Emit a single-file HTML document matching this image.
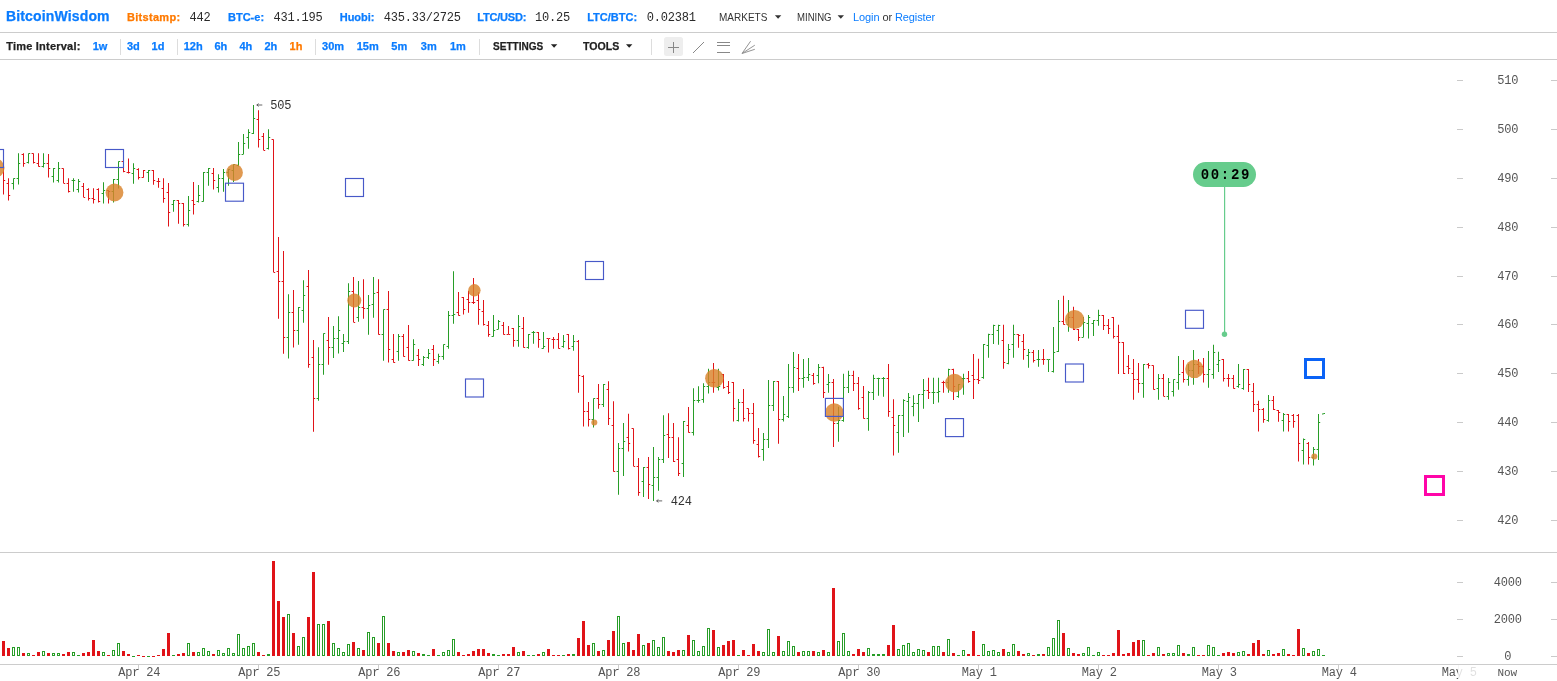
<!DOCTYPE html>
<html><head><meta charset="utf-8"><title>BitcoinWisdom</title>
<style>
html,body{margin:0;padding:0;background:#fff;}
body{width:1557px;height:681px;overflow:hidden;position:relative;will-change:transform;font-family:"Liberation Sans",sans-serif;font-size:11px;color:#333;}
.t{position:absolute;white-space:nowrap;line-height:14px;height:14px;}
.b{font-weight:bold;-webkit-text-stroke:0.25px currentColor;}
.bl{color:#0a7cff;}
.or{color:#ff7a00;}
.m{font-family:"Liberation Mono",monospace;font-size:12px;letter-spacing:-0.2px;color:#2a2a2a;margin-top:1px;}
.sx{display:inline-block;transform-origin:0 50%;}
.hl{position:absolute;left:0;width:1557px;height:1px;background:#cccccc;}
.vs{position:absolute;width:1px;background:#dddddd;top:39px;height:16px;}
svg{position:absolute;left:0;top:0;}
.ax{font-family:"Liberation Mono",monospace;font-size:12px;letter-spacing:-0.2px;fill:#555;}
</style></head><body>

<div class="t b bl" style="left:6.0px;top:7px;font-size:14px;line-height:18px;height:18px;letter-spacing:0.15px;">BitcoinWisdom</div>
<div class="t b or" style="left:127.0px;top:10px;letter-spacing:0.3px;">Bitstamp:</div>
<div class="t m" style="left:189.4px;top:10px;">442</div>
<div class="t b bl" style="left:228px;top:10px;">BTC-e:</div>
<div class="t m" style="left:273.5px;top:10px;">431.195</div>
<div class="t b bl" style="left:339.7px;top:10px;">Huobi:</div>
<div class="t m" style="left:383.8px;top:10px;">435.33/2725</div>
<div class="t b bl" style="left:477.3px;top:10px;letter-spacing:-0.2px;">LTC/USD:</div>
<div class="t m" style="left:535px;top:10px;">10.25</div>
<div class="t b bl" style="left:587.2px;top:10px;">LTC/BTC:</div>
<div class="t m" style="left:646.8px;top:10px;">0.02381</div>
<div class="t " style="left:719.4px;top:10px;"><span class="sx" style="transform:scaleX(0.909)">MARKETS</span></div>
<div class="t " style="left:797.3px;top:10px;"><span class="sx" style="transform:scaleX(0.87)">MINING</span></div>
<div class="t " style="left:853.0px;top:10px;letter-spacing:-0.1px;"><span class="bl">Login</span> or <span class="bl">Register</span></div>
<div class="hl" style="top:32px"></div><div class="hl" style="top:59px"></div>
<div class="t b" style="left:6.2px;top:39px;color:#222;letter-spacing:0.22px;">Time Interval:</div>
<div class="t b bl" style="left:92.7px;top:39px;">1w</div>
<div class="t b bl" style="left:126.9px;top:39px;">3d</div>
<div class="t b bl" style="left:151.6px;top:39px;">1d</div>
<div class="t b bl" style="left:183.7px;top:39px;">12h</div>
<div class="t b bl" style="left:214.4px;top:39px;">6h</div>
<div class="t b bl" style="left:239.5px;top:39px;">4h</div>
<div class="t b bl" style="left:264.5px;top:39px;">2h</div>
<div class="t b or" style="left:289.6px;top:39px;">1h</div>
<div class="t b bl" style="left:322.1px;top:39px;">30m</div>
<div class="t b bl" style="left:356.7px;top:39px;">15m</div>
<div class="t b bl" style="left:391.3px;top:39px;">5m</div>
<div class="t b bl" style="left:420.8px;top:39px;">3m</div>
<div class="t b bl" style="left:450px;top:39px;">1m</div>
<div class="vs" style="left:120px"></div>
<div class="vs" style="left:177px"></div>
<div class="vs" style="left:315px"></div>
<div class="vs" style="left:479px"></div>
<div class="vs" style="left:651px"></div>
<div class="t b" style="left:492.6px;top:39px;color:#222;"><span class="sx" style="transform:scaleX(0.9125)">SETTINGS</span></div>
<div class="t b" style="left:583.0px;top:39px;color:#222;"><span class="sx" style="transform:scaleX(0.96)">TOOLS</span></div>
<svg width="1557" height="681" viewBox="0 0 1557 681">
<path d="M774.9,15.200000000000001 L781.3000000000001,15.200000000000001 L778.1,18.7 Z" fill="#333"/>
<path d="M837.5999999999999,15.200000000000001 L844.0,15.200000000000001 L840.8,18.7 Z" fill="#333"/>
<path d="M550.9,44.3 L557.3000000000001,44.3 L554.1,47.8 Z" fill="#222"/>
<path d="M626.0,44.3 L632.4000000000001,44.3 L629.2,47.8 Z" fill="#222"/>
<rect x="664" y="37" width="19" height="19" rx="2.5" fill="#eeeeee"/>
<path d="M668,47.5 H679 M673.5,42 V53" stroke="#888" stroke-width="1" fill="none"/>
<path d="M693,53 L704,42" stroke="#888" stroke-width="1" fill="none"/>
<path d="M717,42.5 H730 M717,45.5 H730 M717,52.5 H730" stroke="#888" stroke-width="1" fill="none"/>
<path d="M742,53.5 L750.6,41.2 M742,53.5 L754.8,45.2 M742,53.5 L754.8,49.3" stroke="#959595" stroke-width="1" fill="none"/>
<rect x="0" y="552" width="1557" height="1" fill="#cccccc"/>
<rect x="0" y="664" width="1557" height="1" fill="#cccccc"/>
<rect x="1457" y="80" width="6" height="1" fill="#cacaca"/><rect x="1551" y="80" width="6" height="1" fill="#cacaca"/>
<text class="ax" x="1507.8" y="83.5" text-anchor="middle">510</text>
<rect x="1457" y="129" width="6" height="1" fill="#cacaca"/><rect x="1551" y="129" width="6" height="1" fill="#cacaca"/>
<text class="ax" x="1507.8" y="132.5" text-anchor="middle">500</text>
<rect x="1457" y="178" width="6" height="1" fill="#cacaca"/><rect x="1551" y="178" width="6" height="1" fill="#cacaca"/>
<text class="ax" x="1507.8" y="181.5" text-anchor="middle">490</text>
<rect x="1457" y="227" width="6" height="1" fill="#cacaca"/><rect x="1551" y="227" width="6" height="1" fill="#cacaca"/>
<text class="ax" x="1507.8" y="230.5" text-anchor="middle">480</text>
<rect x="1457" y="276" width="6" height="1" fill="#cacaca"/><rect x="1551" y="276" width="6" height="1" fill="#cacaca"/>
<text class="ax" x="1507.8" y="279.5" text-anchor="middle">470</text>
<rect x="1457" y="324" width="6" height="1" fill="#cacaca"/><rect x="1551" y="324" width="6" height="1" fill="#cacaca"/>
<text class="ax" x="1507.8" y="327.5" text-anchor="middle">460</text>
<rect x="1457" y="373" width="6" height="1" fill="#cacaca"/><rect x="1551" y="373" width="6" height="1" fill="#cacaca"/>
<text class="ax" x="1507.8" y="376.5" text-anchor="middle">450</text>
<rect x="1457" y="422" width="6" height="1" fill="#cacaca"/><rect x="1551" y="422" width="6" height="1" fill="#cacaca"/>
<text class="ax" x="1507.8" y="425.5" text-anchor="middle">440</text>
<rect x="1457" y="471" width="6" height="1" fill="#cacaca"/><rect x="1551" y="471" width="6" height="1" fill="#cacaca"/>
<text class="ax" x="1507.8" y="474.5" text-anchor="middle">430</text>
<rect x="1457" y="520" width="6" height="1" fill="#cacaca"/><rect x="1551" y="520" width="6" height="1" fill="#cacaca"/>
<text class="ax" x="1507.8" y="523.5" text-anchor="middle">420</text>
<rect x="1457" y="582" width="6" height="1" fill="#cacaca"/><rect x="1551" y="582" width="6" height="1" fill="#cacaca"/>
<text class="ax" x="1507.8" y="585.5" text-anchor="middle">4000</text>
<rect x="1457" y="619" width="6" height="1" fill="#cacaca"/><rect x="1551" y="619" width="6" height="1" fill="#cacaca"/>
<text class="ax" x="1507.8" y="622.5" text-anchor="middle">2000</text>
<rect x="1457" y="656" width="6" height="1" fill="#cacaca"/><rect x="1551" y="656" width="6" height="1" fill="#cacaca"/>
<text class="ax" x="1507.8" y="659.5" text-anchor="middle">0</text>
<rect x="138" y="665" width="1" height="5" fill="#cccccc"/>
<text class="ax" x="139.3" y="676" text-anchor="middle">Apr 24</text>
<rect x="258" y="665" width="1" height="5" fill="#cccccc"/>
<text class="ax" x="259.3" y="676" text-anchor="middle">Apr 25</text>
<rect x="378" y="665" width="1" height="5" fill="#cccccc"/>
<text class="ax" x="379.3" y="676" text-anchor="middle">Apr 26</text>
<rect x="498" y="665" width="1" height="5" fill="#cccccc"/>
<text class="ax" x="499.3" y="676" text-anchor="middle">Apr 27</text>
<rect x="618" y="665" width="1" height="5" fill="#cccccc"/>
<text class="ax" x="619.3" y="676" text-anchor="middle">Apr 28</text>
<rect x="738" y="665" width="1" height="5" fill="#cccccc"/>
<text class="ax" x="739.3" y="676" text-anchor="middle">Apr 29</text>
<rect x="858" y="665" width="1" height="5" fill="#cccccc"/>
<text class="ax" x="859.3" y="676" text-anchor="middle">Apr 30</text>
<rect x="978" y="665" width="1" height="5" fill="#cccccc"/>
<text class="ax" x="979.3" y="676" text-anchor="middle">May 1</text>
<rect x="1098" y="665" width="1" height="5" fill="#cccccc"/>
<text class="ax" x="1099.3" y="676" text-anchor="middle">May 2</text>
<rect x="1218" y="665" width="1" height="5" fill="#cccccc"/>
<text class="ax" x="1219.3" y="676" text-anchor="middle">May 3</text>
<rect x="1338" y="665" width="1" height="5" fill="#cccccc"/>
<text class="ax" x="1339.3" y="676" text-anchor="middle">May 4</text>
<rect x="1458" y="665" width="1" height="5" fill="#cccccc"/>
<text class="ax" x="1459.3" y="676" text-anchor="middle">May 5</text>
<rect x="1458" y="665" width="60" height="16" fill="#ffffff" fill-opacity="0.82"/>
<text class="ax" x="1507.3" y="675.8" text-anchor="middle" style="font-size:11px;letter-spacing:0px">Now</text>
<path d="M2,641h3v15h-3zM7,648h3v8h-3zM22,653h3v3h-3zM32,655h3v1h-3zM37,652h3v4h-3zM47,653h3v3h-3zM62,654h3v2h-3zM67,652h3v4h-3zM82,653h3v3h-3zM87,652h3v4h-3zM92,640h3v16h-3zM97,651h3v5h-3zM107,655h3v1h-3zM122,651h3v5h-3zM127,654h3v2h-3zM137,655h3v1h-3zM142,656h3v1h-3zM152,656h3v1h-3zM157,655h3v1h-3zM162,649h3v7h-3zM167,633h3v23h-3zM177,654h3v2h-3zM182,653h3v3h-3zM192,652h3v4h-3zM212,654h3v2h-3zM257,652h3v4h-3zM262,655h3v1h-3zM272,561h3v95h-3zM277,601h3v55h-3zM282,617h3v39h-3zM292,633h3v23h-3zM307,617h3v39h-3zM312,572h3v84h-3zM327,621h3v35h-3zM352,642h3v14h-3zM362,650h3v6h-3zM377,643h3v13h-3zM387,643h3v13h-3zM392,651h3v5h-3zM402,652h3v4h-3zM407,650h3v6h-3zM417,653h3v3h-3zM432,649h3v7h-3zM457,652h3v4h-3zM462,655h3v1h-3zM467,654h3v2h-3zM472,651h3v5h-3zM477,649h3v7h-3zM482,649h3v7h-3zM487,653h3v3h-3zM502,654h3v2h-3zM507,654h3v2h-3zM512,647h3v9h-3zM522,651h3v5h-3zM537,654h3v2h-3zM547,649h3v7h-3zM552,655h3v1h-3zM557,655h3v1h-3zM567,654h3v2h-3zM577,638h3v18h-3zM582,621h3v35h-3zM587,645h3v11h-3zM597,651h3v5h-3zM607,640h3v16h-3zM612,631h3v25h-3zM627,642h3v14h-3zM632,650h3v6h-3zM637,634h3v22h-3zM647,643h3v13h-3zM667,651h3v5h-3zM672,652h3v4h-3zM677,650h3v6h-3zM687,635h3v21h-3zM712,630h3v26h-3zM722,645h3v11h-3zM727,641h3v15h-3zM732,640h3v16h-3zM742,650h3v6h-3zM747,655h3v1h-3zM752,644h3v12h-3zM757,651h3v5h-3zM777,636h3v20h-3zM797,652h3v4h-3zM812,651h3v5h-3zM822,650h3v6h-3zM832,588h3v68h-3zM852,654h3v2h-3zM857,649h3v7h-3zM862,652h3v4h-3zM887,645h3v11h-3zM892,625h3v31h-3zM927,652h3v4h-3zM942,652h3v4h-3zM952,653h3v3h-3zM967,654h3v2h-3zM972,631h3v25h-3zM977,655h3v1h-3zM1002,649h3v7h-3zM1017,651h3v5h-3zM1022,654h3v2h-3zM1032,655h3v1h-3zM1042,654h3v2h-3zM1062,633h3v23h-3zM1072,653h3v3h-3zM1077,654h3v2h-3zM1102,655h3v1h-3zM1107,655h3v1h-3zM1112,653h3v3h-3zM1117,630h3v26h-3zM1122,654h3v2h-3zM1127,653h3v3h-3zM1132,642h3v14h-3zM1137,640h3v16h-3zM1147,655h3v1h-3zM1152,653h3v3h-3zM1162,654h3v2h-3zM1182,653h3v3h-3zM1197,655h3v1h-3zM1202,655h3v1h-3zM1222,653h3v3h-3zM1227,652h3v4h-3zM1232,653h3v3h-3zM1247,654h3v2h-3zM1252,643h3v13h-3zM1257,640h3v16h-3zM1262,654h3v2h-3zM1272,654h3v2h-3zM1277,653h3v3h-3zM1287,654h3v2h-3zM1292,655h3v1h-3zM1297,629h3v27h-3zM1307,653h3v3h-3z" fill="#e01318"/>
<path d="M77,655h3v1h-3zM132,656h3v1h-3zM147,656h3v1h-3zM172,655h3v1h-3zM267,654h3v2h-3zM422,654h3v2h-3zM427,655h3v1h-3zM437,655h3v1h-3zM492,654h3v2h-3zM497,655h3v1h-3zM527,655h3v1h-3zM532,655h3v1h-3zM562,655h3v1h-3zM572,654h3v2h-3zM737,655h3v1h-3zM872,654h3v2h-3zM877,654h3v2h-3zM882,654h3v2h-3zM957,655h3v1h-3zM1037,654h3v2h-3zM1092,655h3v1h-3zM1187,654h3v2h-3zM1217,655h3v1h-3zM1322,655h3v1h-3z" fill="#279d27"/>
<path d="M12,647h3v9h-3zM13,648h1v7h-1zM17,647h3v9h-3zM18,648h1v7h-1zM27,653h3v3h-3zM28,654h1v1h-1zM42,651h3v5h-3zM43,652h1v3h-1zM52,653h3v3h-3zM53,654h1v1h-1zM57,653h3v3h-3zM58,654h1v1h-1zM72,652h3v4h-3zM73,653h1v2h-1zM102,652h3v4h-3zM103,653h1v2h-1zM112,650h3v6h-3zM113,651h1v4h-1zM117,643h3v13h-3zM118,644h1v11h-1zM187,643h3v13h-3zM188,644h1v11h-1zM197,652h3v4h-3zM198,653h1v2h-1zM202,648h3v8h-3zM203,649h1v6h-1zM207,651h3v5h-3zM208,652h1v3h-1zM217,650h3v6h-3zM218,651h1v4h-1zM222,653h3v3h-3zM223,654h1v1h-1zM227,648h3v8h-3zM228,649h1v6h-1zM232,653h3v3h-3zM233,654h1v1h-1zM237,634h3v22h-3zM238,635h1v20h-1zM242,648h3v8h-3zM243,649h1v6h-1zM247,646h3v10h-3zM248,647h1v8h-1zM252,643h3v13h-3zM253,644h1v11h-1zM287,614h3v42h-3zM288,615h1v40h-1zM297,646h3v10h-3zM298,647h1v8h-1zM302,637h3v19h-3zM303,638h1v17h-1zM317,624h3v32h-3zM318,625h1v30h-1zM322,624h3v32h-3zM323,625h1v30h-1zM332,643h3v13h-3zM333,644h1v11h-1zM337,648h3v8h-3zM338,649h1v6h-1zM342,652h3v4h-3zM343,653h1v2h-1zM347,644h3v12h-3zM348,645h1v10h-1zM357,648h3v8h-3zM358,649h1v6h-1zM367,632h3v24h-3zM368,633h1v22h-1zM372,637h3v19h-3zM373,638h1v17h-1zM382,616h3v40h-3zM383,617h1v38h-1zM397,652h3v4h-3zM398,653h1v2h-1zM412,651h3v5h-3zM413,652h1v3h-1zM442,652h3v4h-3zM443,653h1v2h-1zM447,650h3v6h-3zM448,651h1v4h-1zM452,639h3v17h-3zM453,640h1v15h-1zM517,652h3v4h-3zM518,653h1v2h-1zM542,652h3v4h-3zM543,653h1v2h-1zM592,643h3v13h-3zM593,644h1v11h-1zM602,650h3v6h-3zM603,651h1v4h-1zM617,616h3v40h-3zM618,617h1v38h-1zM622,643h3v13h-3zM623,644h1v11h-1zM642,645h3v11h-3zM643,646h1v9h-1zM652,640h3v16h-3zM653,641h1v14h-1zM657,647h3v9h-3zM658,648h1v7h-1zM662,637h3v19h-3zM663,638h1v17h-1zM682,650h3v6h-3zM683,651h1v4h-1zM692,640h3v16h-3zM693,641h1v14h-1zM697,651h3v5h-3zM698,652h1v3h-1zM702,646h3v10h-3zM703,647h1v8h-1zM707,628h3v28h-3zM708,629h1v26h-1zM717,647h3v9h-3zM718,648h1v7h-1zM762,652h3v4h-3zM763,653h1v2h-1zM767,629h3v27h-3zM768,630h1v25h-1zM772,652h3v4h-3zM773,653h1v2h-1zM782,651h3v5h-3zM783,652h1v3h-1zM787,641h3v15h-3zM788,642h1v13h-1zM792,646h3v10h-3zM793,647h1v8h-1zM802,651h3v5h-3zM803,652h1v3h-1zM807,651h3v5h-3zM808,652h1v3h-1zM817,652h3v4h-3zM818,653h1v2h-1zM827,652h3v4h-3zM828,653h1v2h-1zM837,641h3v15h-3zM838,642h1v13h-1zM842,633h3v23h-3zM843,634h1v21h-1zM847,651h3v5h-3zM848,652h1v3h-1zM867,648h3v8h-3zM868,649h1v6h-1zM897,649h3v7h-3zM898,650h1v5h-1zM902,645h3v11h-3zM903,646h1v9h-1zM907,643h3v13h-3zM908,644h1v11h-1zM912,652h3v4h-3zM913,653h1v2h-1zM917,649h3v7h-3zM918,650h1v5h-1zM922,650h3v6h-3zM923,651h1v4h-1zM932,646h3v10h-3zM933,647h1v8h-1zM937,646h3v10h-3zM938,647h1v8h-1zM947,639h3v17h-3zM948,640h1v15h-1zM962,650h3v6h-3zM963,651h1v4h-1zM982,644h3v12h-3zM983,645h1v10h-1zM987,651h3v5h-3zM988,652h1v3h-1zM992,650h3v6h-3zM993,651h1v4h-1zM997,652h3v4h-3zM998,653h1v2h-1zM1007,652h3v4h-3zM1008,653h1v2h-1zM1012,644h3v12h-3zM1013,645h1v10h-1zM1027,653h3v3h-3zM1028,654h1v1h-1zM1047,647h3v9h-3zM1048,648h1v7h-1zM1052,638h3v18h-3zM1053,639h1v16h-1zM1057,620h3v36h-3zM1058,621h1v34h-1zM1067,648h3v8h-3zM1068,649h1v6h-1zM1082,653h3v3h-3zM1083,654h1v1h-1zM1087,647h3v9h-3zM1088,648h1v7h-1zM1097,652h3v4h-3zM1098,653h1v2h-1zM1142,640h3v16h-3zM1143,641h1v14h-1zM1157,647h3v9h-3zM1158,648h1v7h-1zM1167,653h3v3h-3zM1168,654h1v1h-1zM1172,653h3v3h-3zM1173,654h1v1h-1zM1177,645h3v11h-3zM1178,646h1v9h-1zM1192,647h3v9h-3zM1193,648h1v7h-1zM1207,645h3v11h-3zM1208,646h1v9h-1zM1212,647h3v9h-3zM1213,648h1v7h-1zM1237,652h3v4h-3zM1238,653h1v2h-1zM1242,651h3v5h-3zM1243,652h1v3h-1zM1267,650h3v6h-3zM1268,651h1v4h-1zM1282,649h3v7h-3zM1283,650h1v5h-1zM1302,648h3v8h-3zM1303,649h1v6h-1zM1312,651h3v5h-3zM1313,652h1v3h-1zM1317,649h3v7h-3zM1318,650h1v5h-1z" fill="#279d27" fill-rule="evenodd"/>
<path d="M3,162.0h1v32.6h-1zM4,180h1.2v1h-1.2zM8,178.2h1v22.3h-1zM6.6,183h1.4v1h-1.4zM9,195h1.2v1h-1.2zM23,153.2h1v13.5h-1zM21.6,154h1.4v1h-1.4zM24,163h1.2v1h-1.2zM33,153.2h1v10.3h-1zM31.6,153h1.4v1h-1.4zM34,162h1.2v1h-1.2zM38,153.2h1v13.5h-1zM36.6,163h1.4v1h-1.4zM39,166h1.2v1h-1.2zM48,154.0h1v23.4h-1zM46.6,163h1.4v1h-1.4zM49,168h1.2v1h-1.2zM63,168.2h1v15.4h-1zM61.6,168h1.4v1h-1.4zM64,183h1.2v1h-1.2zM68,178.2h1v14.4h-1zM66.6,183h1.4v1h-1.4zM69,191h1.2v1h-1.2zM83,183.0h1v14.6h-1zM81.6,186h1.4v1h-1.4zM84,197h1.2v1h-1.2zM88,188.2h1v12.3h-1zM86.6,189h1.4v1h-1.4zM89,198h1.2v1h-1.2zM93,188.2h1v15.2h-1zM91.6,198h1.4v1h-1.4zM94,199h1.2v1h-1.2zM98,188.2h1v14.2h-1zM96.6,189h1.4v1h-1.4zM99,201h1.2v1h-1.2zM108,190.0h1v13.4h-1zM106.6,190h1.4v1h-1.4zM109,191h1.2v1h-1.2zM123,161.3h1v11.0h-1zM121.6,161h1.4v1h-1.4zM124,171h1.2v1h-1.2zM128,158.4h1v15.1h-1zM126.6,172h1.4v1h-1.4zM129,172h1.2v1h-1.2zM138,168.2h1v11.4h-1zM136.6,169h1.4v1h-1.4zM139,177h1.2v1h-1.2zM143,170.1h1v7.6h-1zM141.6,177h1.4v1h-1.4zM144,170h1.2v1h-1.2zM153,170.1h1v14.7h-1zM151.6,170h1.4v1h-1.4zM154,180h1.2v1h-1.2zM158,177.9h1v9.8h-1zM156.6,181h1.4v1h-1.4zM159,181h1.2v1h-1.2zM163,178.2h1v24.5h-1zM161.6,188h1.4v1h-1.4zM164,198h1.2v1h-1.2zM168,183.0h1v43.6h-1zM166.6,192h1.4v1h-1.4zM169,212h1.2v1h-1.2zM178,199.9h1v23.8h-1zM176.6,200h1.4v1h-1.4zM179,203h1.2v1h-1.2zM183,203.1h1v23.5h-1zM181.6,203h1.4v1h-1.4zM184,224h1.2v1h-1.2zM193,182.1h1v32.5h-1zM191.6,200h1.4v1h-1.4zM194,204h1.2v1h-1.2zM213,167.9h1v21.7h-1zM211.6,173h1.4v1h-1.4zM214,180h1.2v1h-1.2zM258,110.3h1v37.3h-1zM256.6,119h1.4v1h-1.4zM259,139h1.2v1h-1.2zM263,133.0h1v17.5h-1zM261.6,136h1.4v1h-1.4zM264,150h1.2v1h-1.2zM273,139.2h1v133.4h-1zM271.6,139h1.4v1h-1.4zM274,272h1.2v1h-1.2zM278,237.0h1v81.8h-1zM276.6,271h1.4v1h-1.4zM279,281h1.2v1h-1.2zM283,251.0h1v102.8h-1zM281.6,281h1.4v1h-1.4zM284,337h1.2v1h-1.2zM293,290.0h1v57.6h-1zM291.6,312h1.4v1h-1.4zM294,330h1.2v1h-1.2zM308,270.0h1v97.7h-1zM306.6,286h1.4v1h-1.4zM309,364h1.2v1h-1.2zM313,340.0h1v91.7h-1zM311.6,357h1.4v1h-1.4zM314,398h1.2v1h-1.2zM328,317.0h1v47.8h-1zM326.6,340h1.4v1h-1.4zM329,347h1.2v1h-1.2zM353,277.0h1v45.5h-1zM351.6,291h1.4v1h-1.4zM354,322h1.2v1h-1.2zM363,279.2h1v39.6h-1zM361.6,307h1.4v1h-1.4zM364,308h1.2v1h-1.2zM378,279.2h1v55.5h-1zM376.6,292h1.4v1h-1.4zM379,334h1.2v1h-1.2zM388,291.0h1v71.6h-1zM386.6,309h1.4v1h-1.4zM389,349h1.2v1h-1.2zM393,334.0h1v28.7h-1zM391.6,359h1.4v1h-1.4zM394,362h1.2v1h-1.2zM403,334.0h1v22.8h-1zM401.6,336h1.4v1h-1.4zM404,356h1.2v1h-1.2zM408,324.9h1v35.8h-1zM406.6,347h1.4v1h-1.4zM409,360h1.2v1h-1.2zM418,349.0h1v17.0h-1zM416.6,355h1.4v1h-1.4zM419,359h1.2v1h-1.2zM433,345.0h1v21.0h-1zM431.6,349h1.4v1h-1.4zM434,359h1.2v1h-1.2zM458,291.9h1v23.8h-1zM456.6,312h1.4v1h-1.4zM459,315h1.2v1h-1.2zM463,297.0h1v17.6h-1zM461.6,297h1.4v1h-1.4zM464,309h1.2v1h-1.2zM468,291.1h1v21.6h-1zM466.6,299h1.4v1h-1.4zM469,302h1.2v1h-1.2zM473,277.9h1v26.0h-1zM471.6,302h1.4v1h-1.4zM474,302h1.2v1h-1.2zM478,292.2h1v32.6h-1zM476.6,300h1.4v1h-1.4zM479,309h1.2v1h-1.2zM483,300.0h1v25.5h-1zM481.6,311h1.4v1h-1.4zM484,324h1.2v1h-1.2zM488,321.1h1v15.6h-1zM486.6,325h1.4v1h-1.4zM489,334h1.2v1h-1.2zM503,322.0h1v12.8h-1zM501.6,325h1.4v1h-1.4zM504,334h1.2v1h-1.2zM508,326.0h1v8.8h-1zM506.6,334h1.4v1h-1.4zM509,334h1.2v1h-1.2zM513,328.1h1v18.7h-1zM511.6,328h1.4v1h-1.4zM514,340h1.2v1h-1.2zM523,316.9h1v30.8h-1zM521.6,328h1.4v1h-1.4zM524,347h1.2v1h-1.2zM538,332.0h1v15.7h-1zM536.6,332h1.4v1h-1.4zM539,339h1.2v1h-1.2zM548,338.2h1v14.4h-1zM546.6,338h1.4v1h-1.4zM549,338h1.2v1h-1.2zM553,337.0h1v11.8h-1zM551.6,339h1.4v1h-1.4zM554,339h1.2v1h-1.2zM558,333.0h1v15.8h-1zM556.6,339h1.4v1h-1.4zM559,348h1.2v1h-1.2zM568,334.0h1v15.6h-1zM566.6,334h1.4v1h-1.4zM569,348h1.2v1h-1.2zM578,340.0h1v52.8h-1zM576.6,341h1.4v1h-1.4zM579,375h1.2v1h-1.2zM583,375.2h1v51.3h-1zM581.6,376h1.4v1h-1.4zM584,411h1.2v1h-1.2zM588,401.9h1v24.6h-1zM586.6,411h1.4v1h-1.4zM589,419h1.2v1h-1.2zM598,384.0h1v24.7h-1zM596.6,398h1.4v1h-1.4zM599,404h1.2v1h-1.2zM608,381.3h1v43.8h-1zM606.6,389h1.4v1h-1.4zM609,418h1.2v1h-1.2zM613,401.3h1v70.5h-1zM611.6,425h1.4v1h-1.4zM614,471h1.2v1h-1.2zM628,413.8h1v37.8h-1zM626.6,437h1.4v1h-1.4zM629,443h1.2v1h-1.2zM633,428.2h1v38.4h-1zM631.6,428h1.4v1h-1.4zM634,466h1.2v1h-1.2zM638,458.0h1v37.8h-1zM636.6,466h1.4v1h-1.4zM639,492h1.2v1h-1.2zM648,457.0h1v41.9h-1zM646.6,467h1.4v1h-1.4zM649,484h1.2v1h-1.2zM668,413.2h1v44.8h-1zM666.6,434h1.4v1h-1.4zM669,437h1.2v1h-1.2zM673,423.0h1v38.9h-1zM671.6,437h1.4v1h-1.4zM674,461h1.2v1h-1.2zM678,437.2h1v38.7h-1zM676.6,459h1.4v1h-1.4zM679,473h1.2v1h-1.2zM688,407.0h1v25.7h-1zM686.6,425h1.4v1h-1.4zM689,432h1.2v1h-1.2zM713,363.0h1v29.8h-1zM711.6,382h1.4v1h-1.4zM714,382h1.2v1h-1.2zM723,373.9h1v14.8h-1zM721.6,374h1.4v1h-1.4zM724,387h1.2v1h-1.2zM728,381.1h1v12.8h-1zM726.6,386h1.4v1h-1.4zM729,392h1.2v1h-1.2zM733,382.1h1v39.5h-1zM731.6,382h1.4v1h-1.4zM734,408h1.2v1h-1.2zM743,388.9h1v32.7h-1zM741.6,402h1.4v1h-1.4zM744,418h1.2v1h-1.2zM748,408.3h1v13.3h-1zM746.6,408h1.4v1h-1.4zM749,413h1.2v1h-1.2zM753,403.1h1v40.7h-1zM751.6,413h1.4v1h-1.4zM754,440h1.2v1h-1.2zM758,428.0h1v29.6h-1zM756.6,444h1.4v1h-1.4zM759,456h1.2v1h-1.2zM778,381.1h1v62.7h-1zM776.6,381h1.4v1h-1.4zM779,419h1.2v1h-1.2zM798,354.0h1v37.0h-1zM796.6,368h1.4v1h-1.4zM799,378h1.2v1h-1.2zM813,372.9h1v11.9h-1zM811.6,375h1.4v1h-1.4zM814,383h1.2v1h-1.2zM823,366.7h1v31.3h-1zM821.6,367h1.4v1h-1.4zM824,392h1.2v1h-1.2zM833,379.1h1v67.8h-1zM831.6,382h1.4v1h-1.4zM834,423h1.2v1h-1.2zM853,370.7h1v20.4h-1zM851.6,375h1.4v1h-1.4zM854,383h1.2v1h-1.2zM858,376.9h1v32.9h-1zM856.6,383h1.4v1h-1.4zM859,408h1.2v1h-1.2zM863,385.9h1v32.9h-1zM861.6,397h1.4v1h-1.4zM864,418h1.2v1h-1.2zM888,363.9h1v52.9h-1zM886.6,378h1.4v1h-1.4zM889,411h1.2v1h-1.2zM893,399.3h1v56.1h-1zM891.6,417h1.4v1h-1.4zM894,425h1.2v1h-1.2zM928,377.7h1v21.2h-1zM926.6,390h1.4v1h-1.4zM929,392h1.2v1h-1.2zM943,380.8h1v11.9h-1zM941.6,382h1.4v1h-1.4zM944,382h1.2v1h-1.2zM953,368.7h1v31.2h-1zM951.6,369h1.4v1h-1.4zM954,386h1.2v1h-1.2zM968,371.1h1v11.7h-1zM966.6,378h1.4v1h-1.4zM969,381h1.2v1h-1.2zM973,354.1h1v44.8h-1zM971.6,375h1.4v1h-1.4zM974,379h1.2v1h-1.2zM978,358.8h1v25.1h-1zM976.6,379h1.4v1h-1.4zM979,380h1.2v1h-1.2zM1003,324.8h1v44.0h-1zM1001.6,340h1.4v1h-1.4zM1004,362h1.2v1h-1.2zM1018,333.9h1v13.9h-1zM1016.6,334h1.4v1h-1.4zM1019,335h1.2v1h-1.2zM1023,333.9h1v25.9h-1zM1021.6,341h1.4v1h-1.4zM1024,349h1.2v1h-1.2zM1033,349.9h1v12.7h-1zM1031.6,352h1.4v1h-1.4zM1034,360h1.2v1h-1.2zM1043,348.9h1v15.8h-1zM1041.6,359h1.4v1h-1.4zM1044,359h1.2v1h-1.2zM1063,295.8h1v29.0h-1zM1061.6,321h1.4v1h-1.4zM1064,324h1.2v1h-1.2zM1073,306.7h1v23.3h-1zM1071.6,317h1.4v1h-1.4zM1074,329h1.2v1h-1.2zM1078,328.9h1v12.2h-1zM1076.6,329h1.4v1h-1.4zM1079,337h1.2v1h-1.2zM1103,315.0h1v15.0h-1zM1101.6,315h1.4v1h-1.4zM1104,325h1.2v1h-1.2zM1108,319.1h1v14.8h-1zM1106.6,325h1.4v1h-1.4zM1109,328h1.2v1h-1.2zM1113,317.0h1v21.6h-1zM1111.6,317h1.4v1h-1.4zM1114,336h1.2v1h-1.2zM1118,324.8h1v49.2h-1zM1116.6,336h1.4v1h-1.4zM1119,342h1.2v1h-1.2zM1123,342.1h1v31.9h-1zM1121.6,342h1.4v1h-1.4zM1124,373h1.2v1h-1.2zM1128,355.0h1v19.0h-1zM1126.6,366h1.4v1h-1.4zM1129,368h1.2v1h-1.2zM1133,358.9h1v40.8h-1zM1131.6,373h1.4v1h-1.4zM1134,379h1.2v1h-1.2zM1138,363.0h1v29.8h-1zM1136.6,379h1.4v1h-1.4zM1139,383h1.2v1h-1.2zM1148,363.1h1v5.4h-1zM1146.6,364h1.4v1h-1.4zM1149,365h1.2v1h-1.2zM1153,365.2h1v24.6h-1zM1151.6,365h1.4v1h-1.4zM1154,389h1.2v1h-1.2zM1163,374.0h1v22.6h-1zM1161.6,378h1.4v1h-1.4zM1164,396h1.2v1h-1.2zM1183,360.0h1v22.6h-1zM1181.6,372h1.4v1h-1.4zM1184,379h1.2v1h-1.2zM1198,359.0h1v15.0h-1zM1196.6,364h1.4v1h-1.4zM1199,366h1.2v1h-1.2zM1203,358.0h1v24.6h-1zM1201.6,366h1.4v1h-1.4zM1204,374h1.2v1h-1.2zM1223,359.0h1v22.6h-1zM1221.6,359h1.4v1h-1.4zM1224,378h1.2v1h-1.2zM1228,374.0h1v12.8h-1zM1226.6,378h1.4v1h-1.4zM1229,378h1.2v1h-1.2zM1233,375.0h1v13.8h-1zM1231.6,378h1.4v1h-1.4zM1234,388h1.2v1h-1.2zM1248,368.9h1v23.0h-1zM1246.6,369h1.4v1h-1.4zM1249,384h1.2v1h-1.2zM1253,382.9h1v29.1h-1zM1251.6,391h1.4v1h-1.4zM1254,404h1.2v1h-1.2zM1258,400.7h1v30.9h-1zM1256.6,404h1.4v1h-1.4zM1259,409h1.2v1h-1.2zM1263,407.9h1v14.8h-1zM1261.6,409h1.4v1h-1.4zM1264,419h1.2v1h-1.2zM1273,396.0h1v14.0h-1zM1271.6,400h1.4v1h-1.4zM1274,409h1.2v1h-1.2zM1278,410.0h1v11.7h-1zM1276.6,410h1.4v1h-1.4zM1279,412h1.2v1h-1.2zM1288,414.1h1v17.5h-1zM1286.6,414h1.4v1h-1.4zM1289,421h1.2v1h-1.2zM1293,414.1h1v13.6h-1zM1291.6,415h1.4v1h-1.4zM1294,421h1.2v1h-1.2zM1298,414.1h1v47.5h-1zM1296.6,415h1.4v1h-1.4zM1299,443h1.2v1h-1.2zM1308,441.9h1v22.6h-1zM1306.6,443h1.4v1h-1.4zM1309,457h1.2v1h-1.2z" fill="#e01318"/>
<path d="M13,178.2h1v11.4h-1zM11.6,183h1.4v1h-1.4zM14,178h1.2v1h-1.2zM18,153.2h1v31.3h-1zM16.6,178h1.4v1h-1.4zM19,163h1.2v1h-1.2zM28,153.2h1v10.3h-1zM26.6,162h1.4v1h-1.4zM29,153h1.2v1h-1.2zM43,153.2h1v14.4h-1zM41.6,166h1.4v1h-1.4zM44,163h1.2v1h-1.2zM53,167.9h1v14.7h-1zM51.6,176h1.4v1h-1.4zM54,168h1.2v1h-1.2zM58,162.0h1v20.6h-1zM56.6,180h1.4v1h-1.4zM59,168h1.2v1h-1.2zM73,178.2h1v13.5h-1zM71.6,180h1.4v1h-1.4zM74,180h1.2v1h-1.2zM78,178.9h1v13.7h-1zM76.6,189h1.4v1h-1.4zM79,181h1.2v1h-1.2zM103,182.3h1v21.1h-1zM101.6,193h1.4v1h-1.4zM104,190h1.2v1h-1.2zM113,178.9h1v23.5h-1zM111.6,191h1.4v1h-1.4zM114,179h1.2v1h-1.2zM118,161.3h1v27.2h-1zM116.6,179h1.4v1h-1.4zM119,161h1.2v1h-1.2zM133,163.2h1v20.6h-1zM131.6,173h1.4v1h-1.4zM134,168h1.2v1h-1.2zM148,170.1h1v11.8h-1zM146.6,172h1.4v1h-1.4zM149,170h1.2v1h-1.2zM173,199.9h1v11.8h-1zM171.6,204h1.4v1h-1.4zM174,200h1.2v1h-1.2zM188,196.1h1v30.5h-1zM186.6,224h1.4v1h-1.4zM189,210h1.2v1h-1.2zM198,185.1h1v17.3h-1zM196.6,201h1.4v1h-1.4zM199,195h1.2v1h-1.2zM203,172.0h1v29.7h-1zM201.6,201h1.4v1h-1.4zM204,172h1.2v1h-1.2zM208,167.9h1v17.9h-1zM206.6,172h1.4v1h-1.4zM209,168h1.2v1h-1.2zM218,174.2h1v18.4h-1zM216.6,187h1.4v1h-1.4zM219,178h1.2v1h-1.2zM223,169.1h1v22.6h-1zM221.6,178h1.4v1h-1.4zM224,172h1.2v1h-1.2zM228,169.1h1v16.7h-1zM226.6,172h1.4v1h-1.4zM229,169h1.2v1h-1.2zM233,164.2h1v17.7h-1zM231.6,170h1.4v1h-1.4zM234,164h1.2v1h-1.2zM238,142.1h1v24.3h-1zM236.6,165h1.4v1h-1.4zM239,154h1.2v1h-1.2zM243,134.1h1v20.5h-1zM241.6,154h1.4v1h-1.4zM244,143h1.2v1h-1.2zM248,129.2h1v19.5h-1zM246.6,137h1.4v1h-1.4zM249,132h1.2v1h-1.2zM253,105.0h1v29.1h-1zM251.6,133h1.4v1h-1.4zM254,118h1.2v1h-1.2zM268,129.2h1v20.3h-1zM266.6,148h1.4v1h-1.4zM269,137h1.2v1h-1.2zM288,294.2h1v64.4h-1zM286.6,337h1.4v1h-1.4zM289,312h1.2v1h-1.2zM298,307.1h1v37.6h-1zM296.6,330h1.4v1h-1.4zM299,307h1.2v1h-1.2zM303,280.2h1v42.6h-1zM301.6,310h1.4v1h-1.4zM304,295h1.2v1h-1.2zM318,347.2h1v53.6h-1zM316.6,398h1.4v1h-1.4zM319,364h1.2v1h-1.2zM323,333.2h1v41.6h-1zM321.6,364h1.4v1h-1.4zM324,333h1.2v1h-1.2zM333,326.0h1v31.9h-1zM331.6,347h1.4v1h-1.4zM334,338h1.2v1h-1.2zM338,316.2h1v37.3h-1zM336.6,338h1.4v1h-1.4zM339,330h1.2v1h-1.2zM343,334.1h1v17.9h-1zM341.6,343h1.4v1h-1.4zM344,341h1.2v1h-1.2zM348,283.2h1v60.8h-1zM346.6,341h1.4v1h-1.4zM349,291h1.2v1h-1.2zM358,281.0h1v40.8h-1zM356.6,317h1.4v1h-1.4zM359,307h1.2v1h-1.2zM368,295.0h1v39.7h-1zM366.6,308h1.4v1h-1.4zM369,305h1.2v1h-1.2zM373,277.0h1v40.8h-1zM371.6,304h1.4v1h-1.4zM374,293h1.2v1h-1.2zM383,309.3h1v51.5h-1zM381.6,334h1.4v1h-1.4zM384,309h1.2v1h-1.2zM398,334.0h1v26.7h-1zM396.6,351h1.4v1h-1.4zM399,336h1.2v1h-1.2zM413,339.2h1v21.5h-1zM411.6,360h1.4v1h-1.4zM414,344h1.2v1h-1.2zM423,356.0h1v10.0h-1zM421.6,364h1.4v1h-1.4zM424,357h1.2v1h-1.2zM428,349.0h1v10.0h-1zM426.6,357h1.4v1h-1.4zM429,353h1.2v1h-1.2zM438,353.8h1v9.9h-1zM436.6,361h1.4v1h-1.4zM439,356h1.2v1h-1.2zM443,344.3h1v15.4h-1zM441.6,356h1.4v1h-1.4zM444,344h1.2v1h-1.2zM448,311.0h1v37.7h-1zM446.6,346h1.4v1h-1.4zM449,315h1.2v1h-1.2zM453,271.2h1v52.5h-1zM451.6,315h1.4v1h-1.4zM454,314h1.2v1h-1.2zM493,315.0h1v21.7h-1zM491.6,336h1.4v1h-1.4zM494,330h1.2v1h-1.2zM498,320.0h1v9.6h-1zM496.6,329h1.4v1h-1.4zM499,321h1.2v1h-1.2zM518,315.0h1v31.8h-1zM516.6,340h1.4v1h-1.4zM519,326h1.2v1h-1.2zM528,334.0h1v14.8h-1zM526.6,347h1.4v1h-1.4zM529,334h1.2v1h-1.2zM533,331.1h1v12.7h-1zM531.6,332h1.4v1h-1.4zM534,332h1.2v1h-1.2zM543,332.0h1v16.8h-1zM541.6,348h1.4v1h-1.4zM544,346h1.2v1h-1.2zM563,335.0h1v12.7h-1zM561.6,346h1.4v1h-1.4zM564,341h1.2v1h-1.2zM573,335.0h1v15.7h-1zM571.6,346h1.4v1h-1.4zM574,341h1.2v1h-1.2zM593,398.2h1v29.4h-1zM591.6,419h1.4v1h-1.4zM594,398h1.2v1h-1.2zM603,384.0h1v23.0h-1zM601.6,404h1.4v1h-1.4zM604,384h1.2v1h-1.2zM618,443.0h1v51.8h-1zM616.6,471h1.4v1h-1.4zM619,448h1.2v1h-1.2zM623,423.0h1v52.9h-1zM621.6,448h1.4v1h-1.4zM624,441h1.2v1h-1.2zM643,467.0h1v30.0h-1zM641.6,481h1.4v1h-1.4zM644,467h1.2v1h-1.2zM653,447.1h1v53.9h-1zM651.6,485h1.4v1h-1.4zM654,477h1.2v1h-1.2zM658,457.0h1v33.7h-1zM656.6,477h1.4v1h-1.4zM659,459h1.2v1h-1.2zM663,415.2h1v47.7h-1zM661.6,459h1.4v1h-1.4zM664,435h1.2v1h-1.2zM683,421.0h1v55.9h-1zM681.6,463h1.4v1h-1.4zM684,421h1.2v1h-1.2zM693,388.3h1v47.3h-1zM691.6,432h1.4v1h-1.4zM694,400h1.2v1h-1.2zM698,386.3h1v16.4h-1zM696.6,400h1.4v1h-1.4zM699,400h1.2v1h-1.2zM703,383.2h1v19.5h-1zM701.6,399h1.4v1h-1.4zM704,386h1.2v1h-1.2zM708,368.8h1v24.7h-1zM706.6,386h1.4v1h-1.4zM709,382h1.2v1h-1.2zM718,368.8h1v21.6h-1zM716.6,387h1.4v1h-1.4zM719,386h1.2v1h-1.2zM738,399.0h1v22.6h-1zM736.6,420h1.4v1h-1.4zM739,402h1.2v1h-1.2zM763,432.9h1v27.8h-1zM761.6,449h1.4v1h-1.4zM764,439h1.2v1h-1.2zM768,380.1h1v67.8h-1zM766.6,439h1.4v1h-1.4zM769,405h1.2v1h-1.2zM773,381.1h1v29.8h-1zM771.6,405h1.4v1h-1.4zM774,381h1.2v1h-1.2zM783,395.9h1v25.7h-1zM781.6,419h1.4v1h-1.4zM784,414h1.2v1h-1.2zM788,364.1h1v54.0h-1zM786.6,416h1.4v1h-1.4zM789,387h1.2v1h-1.2zM793,351.9h1v40.9h-1zM791.6,387h1.4v1h-1.4zM794,367h1.2v1h-1.2zM803,358.9h1v28.8h-1zM801.6,378h1.4v1h-1.4zM804,377h1.2v1h-1.2zM808,358.1h1v23.0h-1zM806.6,377h1.4v1h-1.4zM809,374h1.2v1h-1.2zM818,364.1h1v19.1h-1zM816.6,375h1.4v1h-1.4zM819,367h1.2v1h-1.2zM828,373.9h1v18.9h-1zM826.6,384h1.4v1h-1.4zM829,382h1.2v1h-1.2zM838,406.8h1v35.0h-1zM836.6,423h1.4v1h-1.4zM839,420h1.2v1h-1.2zM843,373.8h1v48.0h-1zM841.6,420h1.4v1h-1.4zM844,387h1.2v1h-1.2zM848,370.7h1v22.3h-1zM846.6,387h1.4v1h-1.4zM849,375h1.2v1h-1.2zM868,391.1h1v39.6h-1zM866.6,418h1.4v1h-1.4zM869,392h1.2v1h-1.2zM873,374.8h1v25.1h-1zM871.6,392h1.4v1h-1.4zM874,378h1.2v1h-1.2zM878,377.7h1v18.1h-1zM876.6,378h1.4v1h-1.4zM879,378h1.2v1h-1.2zM883,376.9h1v19.9h-1zM881.6,378h1.4v1h-1.4zM884,378h1.2v1h-1.2zM898,414.9h1v37.8h-1zM896.6,432h1.4v1h-1.4zM899,415h1.2v1h-1.2zM903,399.3h1v37.6h-1zM901.6,415h1.4v1h-1.4zM904,400h1.2v1h-1.2zM908,393.1h1v39.7h-1zM906.6,401h1.4v1h-1.4zM909,397h1.2v1h-1.2zM913,395.2h1v21.1h-1zM911.6,406h1.4v1h-1.4zM914,403h1.2v1h-1.2zM918,394.1h1v27.8h-1zM916.6,403h1.4v1h-1.4zM919,394h1.2v1h-1.2zM923,378.9h1v29.8h-1zM921.6,394h1.4v1h-1.4zM924,390h1.2v1h-1.2zM933,377.7h1v26.3h-1zM931.6,392h1.4v1h-1.4zM934,392h1.2v1h-1.2zM938,377.7h1v24.7h-1zM936.6,392h1.4v1h-1.4zM939,391h1.2v1h-1.2zM948,368.7h1v24.0h-1zM946.6,382h1.4v1h-1.4zM949,369h1.2v1h-1.2zM958,383.9h1v13.9h-1zM956.6,396h1.4v1h-1.4zM959,384h1.2v1h-1.2zM963,373.8h1v21.0h-1zM961.6,378h1.4v1h-1.4zM964,378h1.2v1h-1.2zM983,344.1h1v34.6h-1zM981.6,377h1.4v1h-1.4zM984,344h1.2v1h-1.2zM988,333.8h1v23.9h-1zM986.6,345h1.4v1h-1.4zM989,334h1.2v1h-1.2zM993,324.8h1v19.1h-1zM991.6,334h1.4v1h-1.4zM994,325h1.2v1h-1.2zM998,324.8h1v20.0h-1zM996.6,330h1.4v1h-1.4zM999,325h1.2v1h-1.2zM1008,344.1h1v20.2h-1zM1006.6,363h1.4v1h-1.4zM1009,349h1.2v1h-1.2zM1013,324.8h1v32.9h-1zM1011.6,344h1.4v1h-1.4zM1014,334h1.2v1h-1.2zM1028,348.9h1v18.9h-1zM1026.6,355h1.4v1h-1.4zM1029,352h1.2v1h-1.2zM1038,349.9h1v16.9h-1zM1036.6,359h1.4v1h-1.4zM1039,359h1.2v1h-1.2zM1048,359.2h1v12.7h-1zM1046.6,359h1.4v1h-1.4zM1049,359h1.2v1h-1.2zM1053,326.9h1v45.6h-1zM1051.6,371h1.4v1h-1.4zM1054,352h1.2v1h-1.2zM1058,299.9h1v52.1h-1zM1056.6,351h1.4v1h-1.4zM1059,321h1.2v1h-1.2zM1068,299.9h1v31.9h-1zM1066.6,324h1.4v1h-1.4zM1069,317h1.2v1h-1.2zM1083,317.0h1v20.6h-1zM1081.6,337h1.4v1h-1.4zM1084,322h1.2v1h-1.2zM1088,315.0h1v23.6h-1zM1086.6,323h1.4v1h-1.4zM1089,317h1.2v1h-1.2zM1093,320.1h1v15.8h-1zM1091.6,323h1.4v1h-1.4zM1094,320h1.2v1h-1.2zM1098,309.8h1v16.0h-1zM1096.6,320h1.4v1h-1.4zM1099,315h1.2v1h-1.2zM1143,364.1h1v33.6h-1zM1141.6,383h1.4v1h-1.4zM1144,364h1.2v1h-1.2zM1158,374.0h1v25.7h-1zM1156.6,388h1.4v1h-1.4zM1159,378h1.2v1h-1.2zM1168,378.1h1v21.6h-1zM1166.6,396h1.4v1h-1.4zM1169,382h1.2v1h-1.2zM1173,379.2h1v17.4h-1zM1171.6,391h1.4v1h-1.4zM1174,379h1.2v1h-1.2zM1178,355.9h1v33.9h-1zM1176.6,382h1.4v1h-1.4zM1179,374h1.2v1h-1.2zM1188,364.1h1v21.6h-1zM1186.6,379h1.4v1h-1.4zM1189,370h1.2v1h-1.2zM1193,350.0h1v34.7h-1zM1191.6,370h1.4v1h-1.4zM1194,364h1.2v1h-1.2zM1208,351.0h1v36.8h-1zM1206.6,374h1.4v1h-1.4zM1209,369h1.2v1h-1.2zM1213,344.8h1v33.9h-1zM1211.6,374h1.4v1h-1.4zM1214,352h1.2v1h-1.2zM1218,351.8h1v20.2h-1zM1216.6,364h1.4v1h-1.4zM1219,360h1.2v1h-1.2zM1238,364.1h1v23.7h-1zM1236.6,386h1.4v1h-1.4zM1239,384h1.2v1h-1.2zM1243,368.9h1v20.9h-1zM1241.6,388h1.4v1h-1.4zM1244,369h1.2v1h-1.2zM1268,395.0h1v26.7h-1zM1266.6,420h1.4v1h-1.4zM1269,400h1.2v1h-1.2zM1283,413.1h1v18.5h-1zM1281.6,420h1.4v1h-1.4zM1284,414h1.2v1h-1.2zM1303,438.4h1v26.1h-1zM1301.6,450h1.4v1h-1.4zM1304,439h1.2v1h-1.2zM1313,447.0h1v18.5h-1zM1311.6,457h1.4v1h-1.4zM1314,449h1.2v1h-1.2zM1318,414.1h1v45.9h-1zM1316.6,449h1.4v1h-1.4zM1319,422h1.2v1h-1.2zM1322,413.6h1.5v1h-1.5z M1323.5,413.1h1.5v1h-1.5z" fill="#279d27"/>
<path d="M256.8,105 H262.3 M256.8,105 l1.8,-1.4 M256.8,105 l1.8,1.4" stroke="#555" stroke-width="0.9" fill="none"/>
<text class="ax" x="270.2" y="108.6" style="fill:#333">505</text>
<path d="M656.6,500.9 H662.2 M656.6,500.9 l1.8,-1.4 M656.6,500.9 l1.8,1.4" stroke="#555" stroke-width="0.9" fill="none"/>
<text class="ax" x="670.7" y="504.6" style="fill:#333">424</text>
<circle cx="-5.5" cy="168" r="10" fill="#d9822b" fill-opacity="0.82"/>
<circle cx="114.5" cy="192.5" r="8.9" fill="#d9822b" fill-opacity="0.82"/>
<circle cx="234.5" cy="172.5" r="8.4" fill="#d9822b" fill-opacity="0.82"/>
<circle cx="354.3" cy="300.5" r="7" fill="#d9822b" fill-opacity="0.82"/>
<circle cx="474.4" cy="290.3" r="6.2" fill="#d9822b" fill-opacity="0.82"/>
<circle cx="594.3" cy="422.4" r="3" fill="#d9822b" fill-opacity="0.82"/>
<circle cx="714.4" cy="378.3" r="9.3" fill="#d9822b" fill-opacity="0.82"/>
<circle cx="834.3" cy="412.5" r="9.3" fill="#d9822b" fill-opacity="0.82"/>
<circle cx="954.5" cy="383" r="9.3" fill="#d9822b" fill-opacity="0.82"/>
<circle cx="1074.6" cy="319.5" r="9.6" fill="#d9822b" fill-opacity="0.82"/>
<circle cx="1194.4" cy="368.9" r="9.2" fill="#d9822b" fill-opacity="0.82"/>
<circle cx="1314.3" cy="456.5" r="3" fill="#d9822b" fill-opacity="0.82"/>
<rect x="-14.5" y="149.5" width="18" height="18" fill="none" stroke="#4759c8" stroke-width="1.15"/>
<rect x="105.5" y="149.5" width="18" height="18" fill="none" stroke="#4759c8" stroke-width="1.15"/>
<rect x="225.5" y="183.2" width="18" height="18" fill="none" stroke="#4759c8" stroke-width="1.15"/>
<rect x="345.5" y="178.5" width="18" height="18" fill="none" stroke="#4759c8" stroke-width="1.15"/>
<rect x="465.5" y="379.0" width="18" height="18" fill="none" stroke="#4759c8" stroke-width="1.15"/>
<rect x="585.5" y="261.5" width="18" height="18" fill="none" stroke="#4759c8" stroke-width="1.15"/>
<rect x="825.4" y="398.4" width="18" height="18" fill="none" stroke="#4759c8" stroke-width="1.15"/>
<rect x="945.5" y="418.6" width="18" height="18" fill="none" stroke="#4759c8" stroke-width="1.15"/>
<rect x="1065.5" y="364.0" width="18" height="18" fill="none" stroke="#4759c8" stroke-width="1.15"/>
<rect x="1185.5" y="310.3" width="18" height="18" fill="none" stroke="#4759c8" stroke-width="1.15"/>
<rect x="1305.5" y="359.5" width="18" height="18" fill="none" stroke="#0b63f6" stroke-width="3"/>
<rect x="1425.5" y="476.5" width="18" height="18" fill="none" stroke="#ff05a8" stroke-width="3"/>
<rect x="1224" y="186" width="1.2" height="148" fill="#66cc8c"/>
<circle cx="1224.5" cy="334.3" r="2.7" fill="#66cc8c"/>
<rect x="1193" y="162" width="63" height="25" rx="12.5" fill="#66cc8c"/>
<text x="1225.9" y="179.1" text-anchor="middle" style="font-family:'Liberation Mono',monospace;font-weight:bold;font-size:14px;letter-spacing:1.7px" fill="#000">00:29</text>
</svg></body></html>
